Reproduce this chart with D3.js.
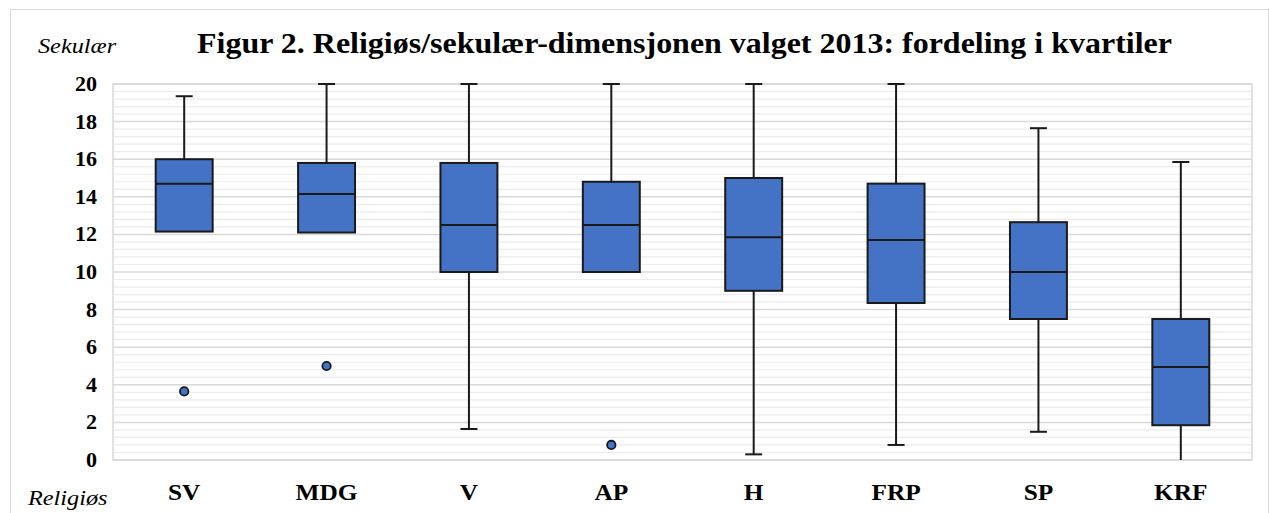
<!DOCTYPE html>
<html>
<head>
<meta charset="utf-8">
<script src="https://cdn.jsdelivr.net/npm/d3@7"></script>
<style>
  html, body { margin: 0; padding: 0; background: #fff; }
  svg { display: block; }
  text { font-family: "Liberation Serif", "Times New Roman", serif; fill: #000; }
</style>
</head>
<body>
<svg id="chart" width="1269" height="513"></svg>
<script>
// ---- data ----
const categories   = ["SV", "MDG", "V", "AP", "H", "FRP", "SP", "KRF"];
const whiskerHigh  = [19.35, 20.0, 20.0, 20.0, 20.0, 20.0, 17.65, 15.85];
const quartile3    = [16.0, 15.8, 15.8, 14.8, 15.0, 14.7, 12.65, 7.5];
const medians      = [14.7, 14.15, 12.5, 12.5, 11.85, 11.7, 10.0, 4.95];
const quartile1    = [12.15, 12.1, 10.0, 10.0, 9.0, 8.35, 7.5, 1.85];
const whiskerLow   = [12.15, 12.1, 1.65, 10.0, 0.3, 0.8, 1.5, 0.0];
const outlierCats  = ["SV", "MDG", "AP"];
const outlierVals  = [3.65, 5.0, 0.8];
const yTicks       = [0, 2, 4, 6, 8, 10, 12, 14, 16, 18, 20];
const titleText    = "Figur 2. Religiøs/sekulær-dimensjonen valget 2013: fordeling i kvartiler";
const topLabel     = "Sekulær";
const bottomLabel  = "Religiøs";

// ---- layout ----
const svg = d3.select("#chart");
const plot = { left: 113, right: 1252, top: 84, bottom: 460 };
const x = d3.scaleBand().domain(categories).range([plot.left, plot.right]).padding(0);
const y = d3.scaleLinear().domain([0, 20]).range([plot.bottom, plot.top]);
const boxW = x.bandwidth() * 0.4;
const capW = 17;
const fill = "#4472C4", stroke = "#1a1a1a";

// outer frame
svg.append("rect").attr("x", 10.5).attr("y", 9.5).attr("width", 1258).attr("height", 520)
  .attr("fill", "none").attr("stroke", "#d9d9d9").attr("stroke-width", 1);

// minor gridlines
const minor = d3.range(0, 20.001, 0.4).filter(v => Math.abs(v / 2 - Math.round(v / 2)) > 1e-6);
svg.append("g").selectAll("line").data(minor).join("line")
  .attr("x1", plot.left).attr("x2", plot.right)
  .attr("y1", d => y(d)).attr("y2", d => y(d))
  .attr("stroke", "#ececec").attr("stroke-width", 1.2);

// major gridlines
svg.append("g").selectAll("line").data(yTicks).join("line")
  .attr("x1", plot.left).attr("x2", plot.right)
  .attr("y1", d => y(d)).attr("y2", d => y(d))
  .attr("stroke", "#d9d9d9").attr("stroke-width", 1.5);

// plot frame
svg.append("rect").attr("x", plot.left).attr("y", plot.top)
  .attr("width", plot.right - plot.left).attr("height", plot.bottom - plot.top)
  .attr("fill", "none").attr("stroke", "#d9d9d9").attr("stroke-width", 1.5);

// boxes
const rows = categories.map((c, i) => ({
  c, hi: whiskerHigh[i], q3: quartile3[i], med: medians[i], q1: quartile1[i], lo: whiskerLow[i]
}));
const g = svg.append("g").selectAll("g").data(rows).join("g")
  .attr("transform", d => `translate(${x(d.c) + x.bandwidth() / 2},0)`);

// upper whisker
g.filter(d => d.hi > d.q3).append("line")
  .attr("x1", 0).attr("x2", 0).attr("y1", d => y(d.hi)).attr("y2", d => y(d.q3))
  .attr("stroke", stroke).attr("stroke-width", 2);
g.filter(d => d.hi > d.q3).append("line")
  .attr("x1", -capW / 2).attr("x2", capW / 2).attr("y1", d => y(d.hi)).attr("y2", d => y(d.hi))
  .attr("stroke", stroke).attr("stroke-width", 2);
// lower whisker
g.filter(d => d.lo < d.q1).append("line")
  .attr("x1", 0).attr("x2", 0).attr("y1", d => y(d.lo)).attr("y2", d => y(d.q1))
  .attr("stroke", stroke).attr("stroke-width", 2);
g.filter(d => d.lo < d.q1 && d.lo > 0).append("line")
  .attr("x1", -capW / 2).attr("x2", capW / 2).attr("y1", d => y(d.lo)).attr("y2", d => y(d.lo))
  .attr("stroke", stroke).attr("stroke-width", 2);
// box
g.append("rect")
  .attr("x", -boxW / 2).attr("width", boxW)
  .attr("y", d => y(d.q3)).attr("height", d => y(d.q1) - y(d.q3))
  .attr("fill", fill).attr("stroke", stroke).attr("stroke-width", 2);
// median
g.append("line")
  .attr("x1", -boxW / 2).attr("x2", boxW / 2).attr("y1", d => y(d.med)).attr("y2", d => y(d.med))
  .attr("stroke", stroke).attr("stroke-width", 2);

// outliers
svg.append("g").selectAll("circle").data(outlierCats.map((c, i) => ({ c, v: outlierVals[i] })))
  .join("circle")
  .attr("cx", d => x(d.c) + x.bandwidth() / 2).attr("cy", d => y(d.v)).attr("r", 4.2)
  .attr("fill", fill).attr("stroke", stroke).attr("stroke-width", 1.8);

// ---- text (source figure is slightly stretched horizontally) ----
function stretched(parent, txt, px, py, size, weight, style, anchor) {
  return parent.append("text").text(txt)
    .attr("font-size", size).attr("font-weight", weight).attr("font-style", style)
    .attr("text-anchor", anchor).attr("data-x", px).attr("data-y", py);
}
const texts = [];
const title = stretched(svg, titleText, 684.5, 53, 29, "bold", "normal", "middle");
texts.push(title);
const k = 975 / title.node().getComputedTextLength();

texts.push(stretched(svg, topLabel, 38, 53, 22, "normal", "italic", "start"));
texts.push(stretched(svg, bottomLabel, 28, 505, 22, "normal", "italic", "start"));
yTicks.forEach(t => texts.push(stretched(svg, String(t), 97, y(t) + 7, 20, "bold", "normal", "end")));
categories.forEach(c => texts.push(stretched(svg, c, x(c) + x.bandwidth() / 2, 500, 23, "bold", "normal", "middle")));

texts.forEach(t => t.attr("transform", `translate(${t.attr("data-x")},${t.attr("data-y")}) scale(${k},1)`));
</script>
</body>
</html>
